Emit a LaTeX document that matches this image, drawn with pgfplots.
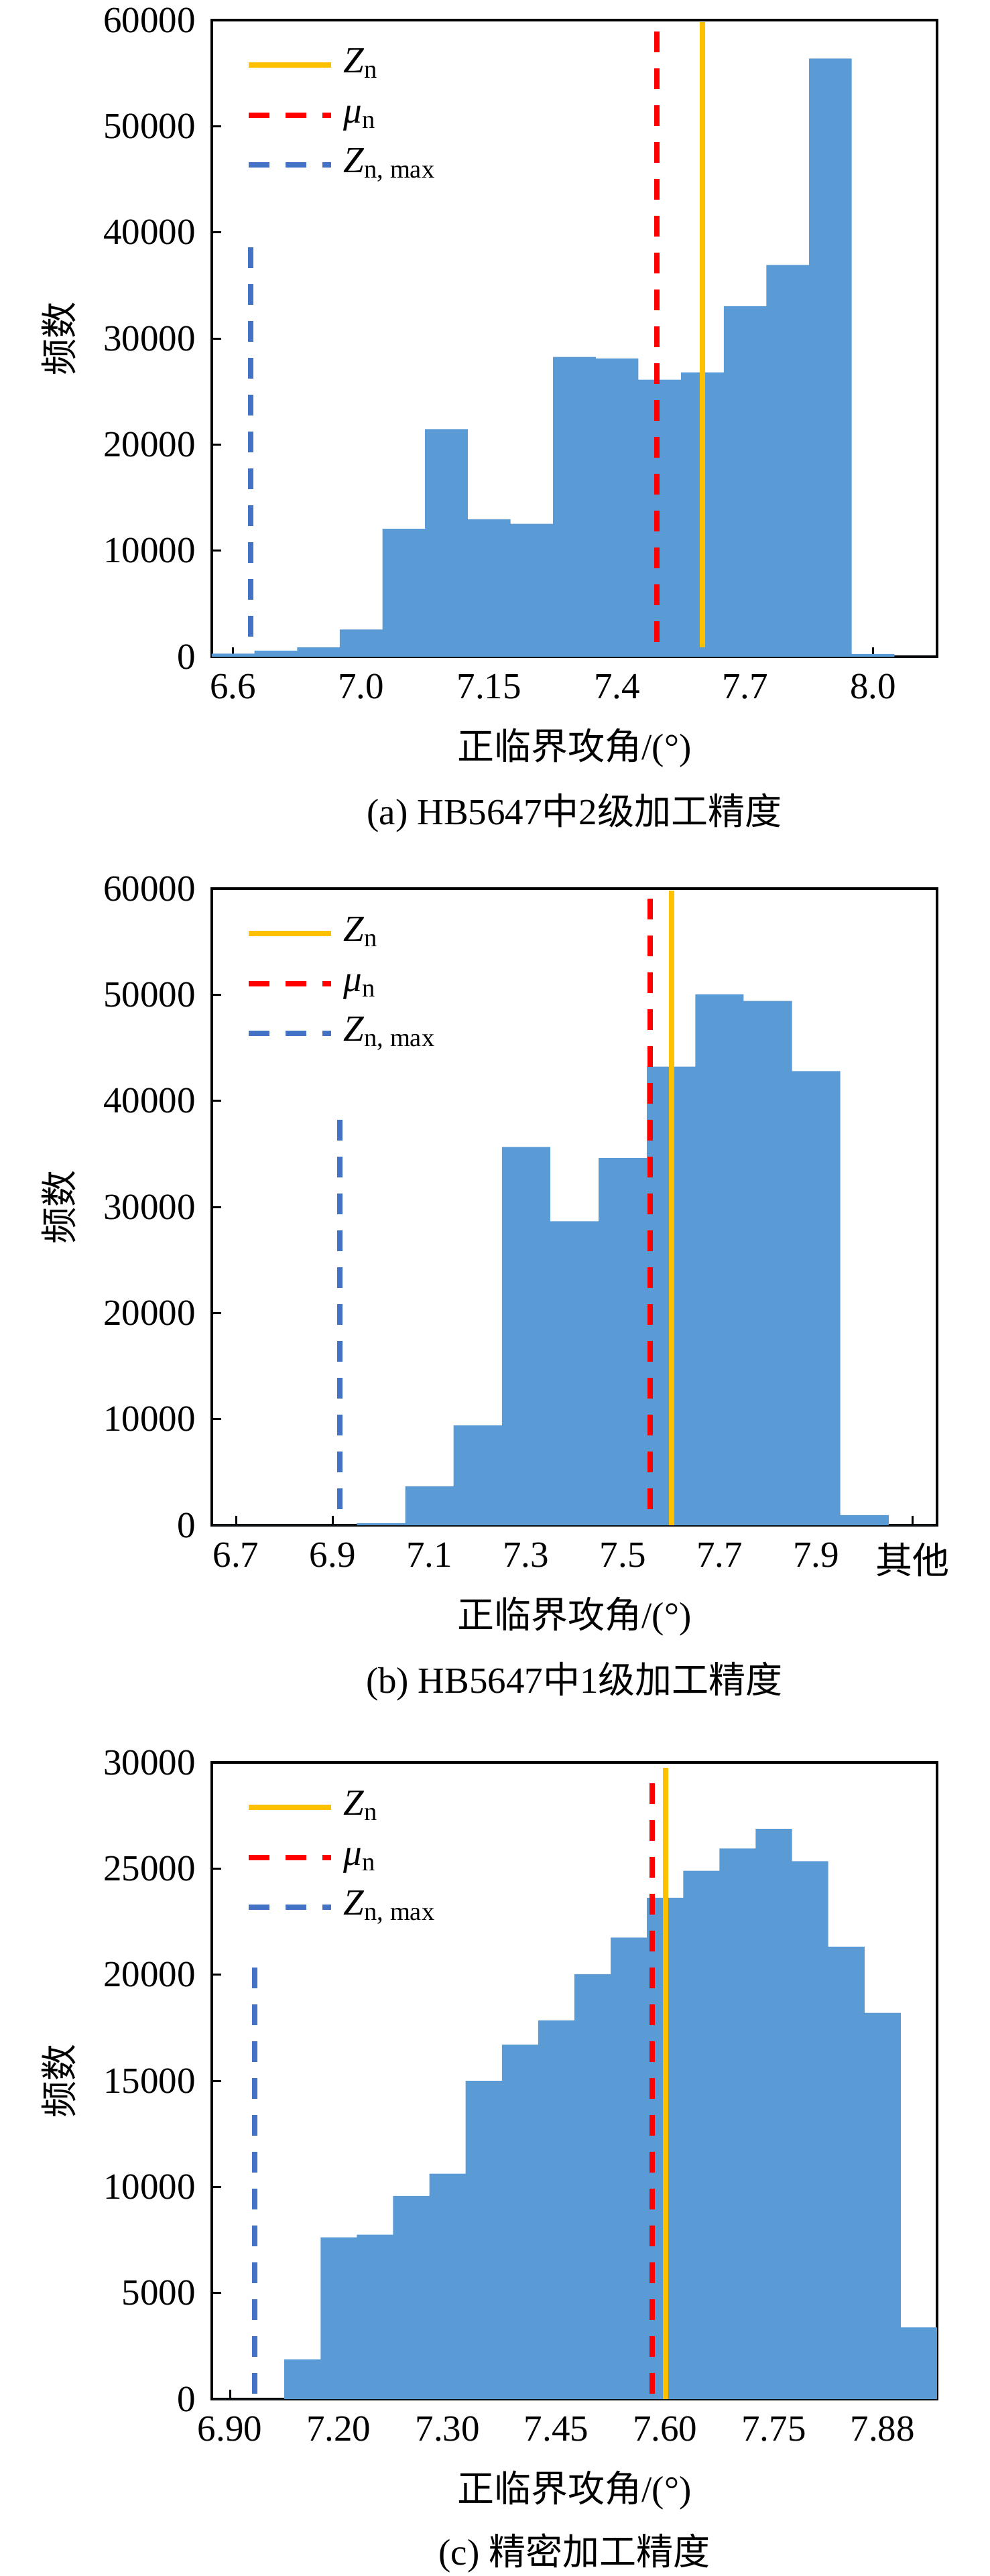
\documentclass[border=0pt]{standalone}
\usepackage{fontspec}
\setmainfont{Liberation Serif}
\newfontfamily\cjk{Noto Sans CJK SC}
\usepackage{pgfplots}
\pgfplotsset{compat=1.18}
\definecolor{barc}{HTML}{5B9BD5}
\definecolor{yel}{HTML}{FFC000}
\definecolor{redd}{HTML}{FF0000}
\definecolor{bl}{HTML}{4472C4}
\newcommand\fs{\fontsize{11}{13}\selectfont}
\pgfplotsset{
  hist/.style={
    scale only axis, width=216.4pt, height=190pt,
    anchor=south west,
    axis line style={line width=0.8pt},
    tick align=inside, tick pos=left, major tick length=2.8pt,
    every tick/.style={black, line width=0.6pt},
    tick label style={font=\fs},
    yticklabel style={anchor=east, inner sep=0pt, xshift=-4.6pt},
    xticklabel style={anchor=north, inner sep=0pt, yshift=-5pt},
    scaled y ticks=false,
    /pgf/number format/1000 sep={},
    /pgf/number format/assume math mode=true,
    ymin=0, clip=false,
    ylabel={{\cjk 频数}},
    every axis y label/.style={at={(axis description cs:-0.2107,0.5)}, rotate=90, anchor=center, font=\fs},
    xlabel={{\cjk 正临界攻角}/(°)},
    every axis x label/.style={at={(axis description cs:0.5,0)}, anchor=base, yshift=-30.6pt, font=\fs},
    legend style={draw=none, fill=none, at={(axis description cs:0,1)}, anchor=north west,
      xshift=10.2pt, yshift=-8.2pt, inner sep=0pt, outer sep=0pt, row sep=4.4pt, column sep=3pt,
      font=\fs, nodes={inner sep=0pt, text height=7.5pt, text depth=3pt}},
    legend cell align=left,
    legend image code/.code={\draw[##1] (0pt,0pt) -- (24.5pt,0pt);},
  },
  zl/.style={yel, line width=1.6pt},
  ml/.style={redd, line width=1.6pt, dash pattern=on 6.2pt off 4.8pt},
  xl/.style={bl, line width=1.6pt, dash pattern=on 6.2pt off 4.8pt},
  bars/.style={ybar, bar width=1, fill=barc, draw=none, forget plot},
}
\pgfplotstableread{
x y
0 300
1 580
2 890
3 2570
4 12060
5 21450
6 12950
7 12530
8 28260
9 28110
10 26110
11 26800
12 33040
13 36920
14 56370
15 260
16 0
}\dataA
\pgfplotstableread{
x y
0 0
1 0
2 0
3 200
4 3680
5 9410
6 35650
7 28650
8 34600
9 43220
10 50050
11 49420
12 42800
13 950
14 0
}\dataB
\pgfplotstableread{
x y
0 0
1 0
2 1875
3 7625
4 7750
5 9575
6 10625
7 15000
8 16700
9 17850
10 20025
11 21750
12 23625
13 24900
14 25950
15 26875
16 25350
17 21325
18 18200
19 3375
}\dataC
\begin{document}
\begin{tikzpicture}[font=\fs]
\path[use as bounding box] (0,0) rectangle (295.2pt,-768.8pt);
% (a)
\begin{axis}[hist, at={(63.2pt,-196pt)},
  xmin=-0.5, xmax=16.5, ymax=60000,
  xtick={0,3,6,9,12,15}, xticklabels={6.6,7.0,7.15,7.4,7.7,8.0},
  ytick={0,10000,20000,30000,40000,50000,60000}]
\addplot[bars] table[x=x,y=y] {\dataA};
\addplot[zl] coordinates {(11.0,900) (11.0,59800)};
\addlegendentry{\textit{Z}\textsubscript{n}}
\addplot[ml] coordinates {(9.93,1400) (9.93,59800)};
\addlegendentry{\textit{μ}\textsubscript{n}}
\addplot[xl] coordinates {(0.41,1900) (0.41,40000)};
\addlegendentry{\textit{Z}\textsubscript{n, max}}
\node[anchor=base, yshift=-50pt] at (axis description cs:0.5,0) {(a) HB5647{\cjk 中}2{\cjk 级加工精度}};
\end{axis}
% (b)
\begin{axis}[hist, at={(63.2pt,-455.2pt)},
  xmin=-0.5, xmax=14.5, ymax=60000,
  xtick={0,2,4,6,8,10,12,14}, xticklabels={6.7,6.9,7.1,7.3,7.5,7.7,7.9,{\cjk 其他}},
  ytick={0,10000,20000,30000,40000,50000,60000}]
\addplot[bars] table[x=x,y=y] {\dataB};
\addplot[zl] coordinates {(9.01,0) (9.01,59800)};
\addlegendentry{\textit{Z}\textsubscript{n}}
\addplot[ml] coordinates {(8.57,1500) (8.57,59800)};
\addlegendentry{\textit{μ}\textsubscript{n}}
\addplot[xl] coordinates {(2.15,1500) (2.15,38650)};
\addlegendentry{\textit{Z}\textsubscript{n, max}}
\node[anchor=base, yshift=-50pt] at (axis description cs:0.5,0) {(b) HB5647{\cjk 中}1{\cjk 级加工精度}};
\end{axis}
% (c)
\begin{axis}[hist, at={(63.2pt,-716pt)},
  xmin=-0.5, xmax=19.5, ymax=30000,
  xtick={0,3,6,9,12,15,18}, xticklabels={6.90,7.20,7.30,7.45,7.60,7.75,7.88},
  ytick={0,5000,10000,15000,20000,25000,30000}]
\addplot[bars] table[x=x,y=y] {\dataC};
\addplot[zl] coordinates {(12.02,0) (12.02,29750)};
\addlegendentry{\textit{Z}\textsubscript{n}}
\addplot[ml] coordinates {(11.65,250) (11.65,29750)};
\addlegendentry{\textit{μ}\textsubscript{n}}
\addplot[xl] coordinates {(0.68,250) (0.68,20500)};
\addlegendentry{\textit{Z}\textsubscript{n, max}}
\node[anchor=base, yshift=-49.5pt] at (axis description cs:0.5,0) {(c) {\cjk 精密加工精度}};
\end{axis}
\end{tikzpicture}
\end{document}
